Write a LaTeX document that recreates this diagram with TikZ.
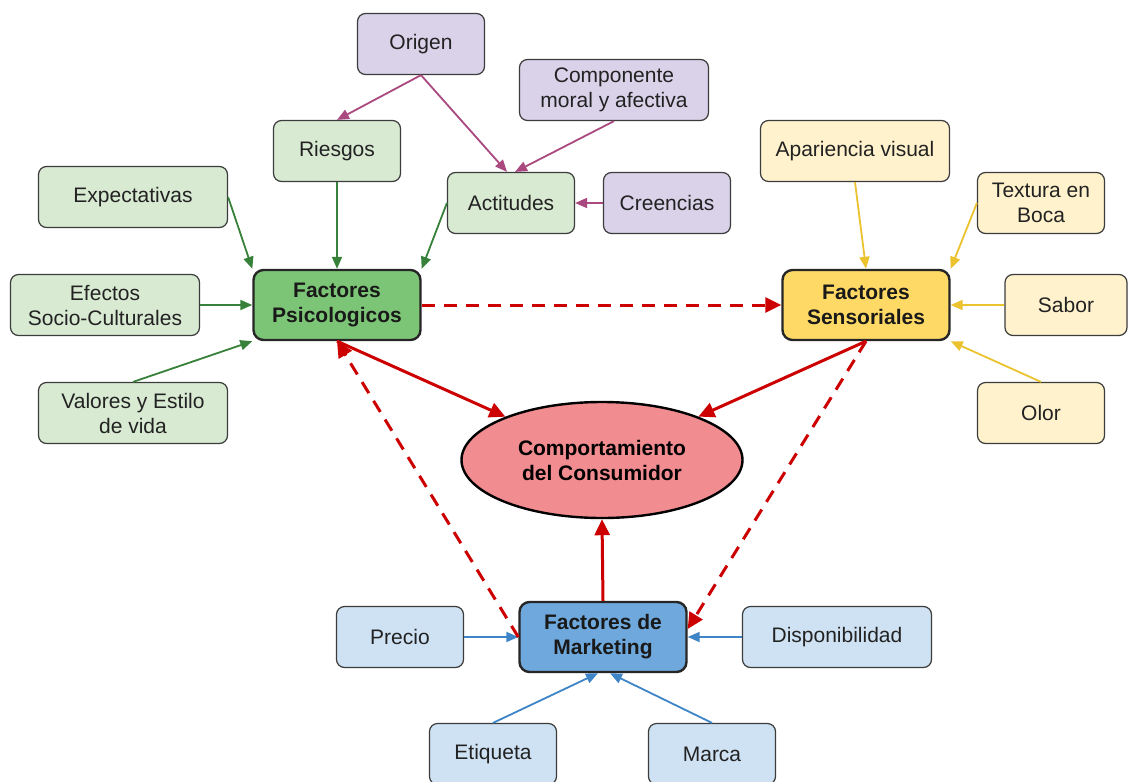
\documentclass[tikz,border=0pt]{standalone}
\usepackage{fontspec}
\setmainfont{Liberation Sans}
\usetikzlibrary{arrows.meta,shapes.geometric}
\definecolor{grnL}{HTML}{D9EAD3}
\definecolor{grnM}{HTML}{7DC576}
\definecolor{grnA}{HTML}{38813A}
\definecolor{purL}{HTML}{D9D2E9}
\definecolor{purA}{HTML}{A9497F}
\definecolor{yelL}{HTML}{FFF2CC}
\definecolor{yelM}{HTML}{FFD966}
\definecolor{yelA}{HTML}{EBC32F}
\definecolor{bluL}{HTML}{CFE2F3}
\definecolor{bluM}{HTML}{6FA8DC}
\definecolor{bluA}{HTML}{3D85C6}
\definecolor{redE}{HTML}{F18C90}
\definecolor{redA}{HTML}{CC0000}
\definecolor{bord}{HTML}{3C3C3C}
\definecolor{txt}{HTML}{222222}
\begin{document}
\begin{tikzpicture}[x=1pt,y=-1pt,
 base/.style={rounded corners=8pt, align=center, inner sep=0pt, font=\fontsize{21}{25}\selectfont},
 box/.style={base, draw=bord, line width=1.2pt, minimum height=61pt, text=txt},
 nar/.style={box, minimum width=127pt},
 wid/.style={box, minimum width=189pt},
 hub/.style={base, draw=black!85, line width=2.4pt, minimum width=167pt, minimum height=70pt, font=\fontsize{21}{25}\selectfont\bfseries, text=black!90, rounded corners=10pt},
 sarrow/.style={line width=1.8pt, -{Triangle[length=12pt,width=10pt]}},
 rarrow/.style={draw=redA, line width=3pt, -{Triangle[length=16pt,width=15pt]}},
 rdash/.style={rarrow, dash pattern=on 13pt off 9pt},
]
\fill[white] (0,0) rectangle (1128,782);
\useasboundingbox (0,0) rectangle (1128,782);

\node[nar, fill=purL] (ori) at (421,44) {Origen};
\node[wid, fill=purL] (com) at (614,90) {Componente\\moral y afectiva};
\node[nar, fill=grnL] (rie) at (337,151) {Riesgos};
\node[nar, fill=grnL] (act) at (511,203) {Actitudes};
\node[nar, fill=purL] (cre) at (667,203) {Creencias};
\node[wid, fill=grnL] (exp) at (133,197) {Expectativas};
\node[wid, fill=grnL] (efe) at (105,305) {Efectos\\Socio-Culturales};
\node[wid, fill=grnL] (val) at (133,413) {Valores y Estilo\\de vida};
\node[hub, fill=grnM] (fp) at (337,305) {Factores\\Psicologicos};
\node[hub, fill=yelM] (fs) at (866,305) {Factores\\Sensoriales};
\node[wid, fill=yelL] (apa) at (855,151) {Apariencia visual};
\node[nar, fill=yelL] (tex) at (1041,203) {Textura en\\Boca};
\node[box, minimum width=122pt, fill=yelL] (sab) at (1066,305) {Sabor};
\node[nar, fill=yelL] (olo) at (1041,413) {Olor};
\node[ellipse, draw=black, line width=2.4pt, fill=redE, minimum width=281pt, minimum height=116pt, inner sep=0pt, align=center, font=\fontsize{21}{25}\selectfont\bfseries] (cb) at (602,460) {Comportamiento\\del Consumidor};
\node[hub, fill=bluM] (fm) at (603,637) {Factores de\\Marketing};
\node[nar, fill=bluL] (pre) at (400,637) {Precio};
\node[wid, fill=bluL] (dis) at (837,637) {Disponibilidad};
\node[nar, fill=bluL] (eti) at (493,754) {Etiqueta};
\node[nar, fill=bluL] (mar) at (712,754) {Marca};

\draw[sarrow, purA] (ori.south) -- (rie.north);
\draw[sarrow, purA] (ori.south) -- ([xshift=-4pt]act.north);
\draw[sarrow, purA] (com.south) -- ([xshift=4pt]act.north);
\draw[sarrow, purA] (cre.west) -- (act.east);

\draw[sarrow, grnA] (rie.south) -- (fp.north);
\draw[sarrow, grnA] (exp.east) -- (fp.north west);
\draw[sarrow, grnA] (efe.east) -- (fp.west);
\draw[sarrow, grnA] (val.north) -- (fp.south west);
\draw[sarrow, grnA] (act.west) -- (fp.north east);

\draw[sarrow, yelA] (apa.south) -- (fs.north);
\draw[sarrow, yelA] (tex.west) -- (fs.north east);
\draw[sarrow, yelA] (sab.west) -- (fs.east);
\draw[sarrow, yelA] (olo.north) -- (fs.south east);

\draw[sarrow, bluA] (pre.east) -- (fm.west);
\draw[sarrow, bluA] (dis.west) -- (fm.east);
\draw[sarrow, bluA] (eti.north) -- ([xshift=-5pt]fm.south);
\draw[sarrow, bluA] (mar.north) -- ([xshift=7pt]fm.south);

\draw[rarrow] (fp.south) -- (cb);
\draw[rarrow] (fs.south) -- (cb);
\draw[rarrow] (fm.north) -- (cb.south);
\draw[rdash] (fp.east) -- (fs.west);
\draw[rdash] (fs.south) -- ([yshift=8pt]fm.east);
\draw[rdash] (fm.west) -- (fp.south);
\end{tikzpicture}
\end{document}
